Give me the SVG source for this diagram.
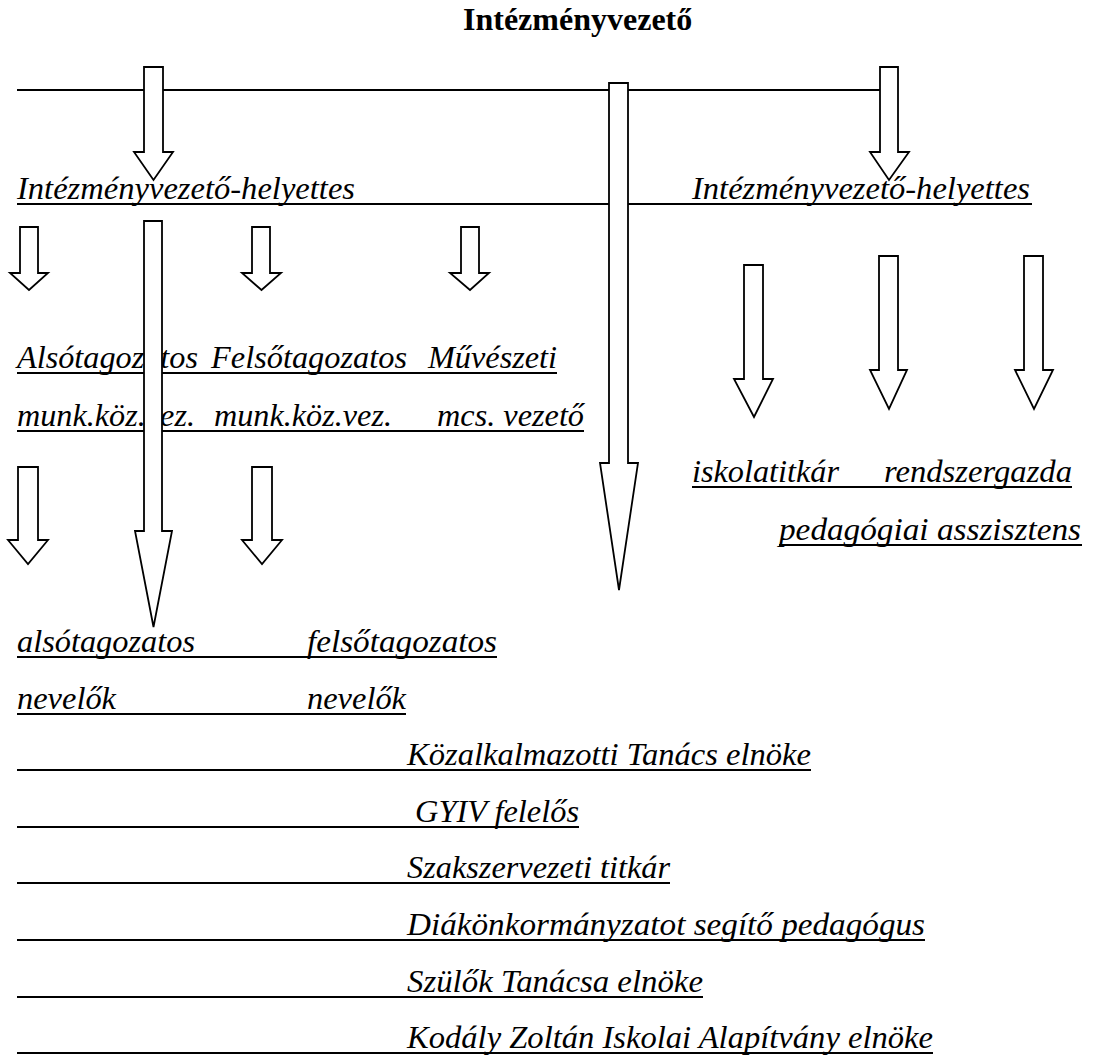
<svg xmlns="http://www.w3.org/2000/svg" width="1094" height="1056" viewBox="0 0 1094 1056">
<defs>
<style>
.t{font-family:"Liberation Serif","DejaVu Serif",serif;font-size:31px;font-style:italic;fill:#000}
.h{font-family:"Liberation Serif","DejaVu Serif",serif;font-size:32px;font-weight:bold;fill:#000}
.u{stroke:#000;stroke-width:2;fill:none}
.ln{stroke:#000;stroke-width:2;fill:none}
.ar{fill:#fff;stroke:#000;stroke-width:1.8;stroke-linejoin:miter}
</style>
</defs>
<rect width="1094" height="1056" fill="#fff"/>
<g id="title"><text class="h" x="463" y="30">Intézményvezető</text></g>
<g id="helyettes-row">
<line class="u" x1="17" y1="204" x2="1032" y2="204"/>
<text class="t" x="17" y="199" textLength="338" lengthAdjust="spacingAndGlyphs">Intézményvezető-helyettes</text>
<text class="t" x="692" y="199" textLength="338" lengthAdjust="spacingAndGlyphs">Intézményvezető-helyettes</text>
</g>
<g id="munkakozosseg-row1">
<line class="u" x1="17" y1="373" x2="557" y2="373"/>
<text class="t" x="17" y="368" textLength="181" lengthAdjust="spacingAndGlyphs">Alsótagozatos</text>
<text class="t" x="211" y="368" textLength="196" lengthAdjust="spacingAndGlyphs">Felsőtagozatos</text>
<text class="t" x="428" y="368" textLength="129" lengthAdjust="spacingAndGlyphs">Művészeti</text>
</g>
<g id="munkakozosseg-row2">
<line class="u" x1="17" y1="431" x2="584" y2="431"/>
<text class="t" x="17" y="426" textLength="178" lengthAdjust="spacingAndGlyphs">munk.köz.vez.</text>
<text class="t" x="214" y="426" textLength="178" lengthAdjust="spacingAndGlyphs">munk.köz.vez.</text>
<text class="t" x="437" y="426" textLength="147" lengthAdjust="spacingAndGlyphs">mcs. vezető</text>
</g>
<g id="staff-row1">
<line class="u" x1="692" y1="487" x2="1072" y2="487"/>
<text class="t" x="692" y="482" textLength="147" lengthAdjust="spacingAndGlyphs">iskolatitkár</text>
<text class="t" x="884" y="482" textLength="188" lengthAdjust="spacingAndGlyphs">rendszergazda</text>
</g>
<g id="staff-row2">
<line class="u" x1="779" y1="545" x2="1082" y2="545"/>
<text class="t" x="779" y="540" textLength="302" lengthAdjust="spacingAndGlyphs">pedagógiai asszisztens</text>
</g>
<g id="nevelok-row1">
<line class="u" x1="17" y1="657" x2="497" y2="657"/>
<text class="t" x="17" y="652" textLength="178" lengthAdjust="spacingAndGlyphs">alsótagozatos</text>
<text class="t" x="307" y="652" textLength="190" lengthAdjust="spacingAndGlyphs">felsőtagozatos</text>
</g>
<g id="nevelok-row2">
<line class="u" x1="17" y1="714" x2="406" y2="714"/>
<text class="t" x="17" y="709" textLength="99" lengthAdjust="spacingAndGlyphs">nevelők</text>
<text class="t" x="307" y="709" textLength="99" lengthAdjust="spacingAndGlyphs">nevelők</text>
</g>
<g id="kt-elnok">
<line class="u" x1="17" y1="770" x2="811" y2="770"/>
<text class="t" x="407" y="765" textLength="404" lengthAdjust="spacingAndGlyphs">Közalkalmazotti Tanács elnöke</text>
</g>
<g id="gyiv">
<line class="u" x1="17" y1="827" x2="579" y2="827"/>
<text class="t" x="415" y="822" textLength="164" lengthAdjust="spacingAndGlyphs">GYIV felelős</text>
</g>
<g id="szakszervezet">
<line class="u" x1="17" y1="883" x2="670" y2="883"/>
<text class="t" x="407" y="878" textLength="263" lengthAdjust="spacingAndGlyphs">Szakszervezeti titkár</text>
</g>
<g id="dok">
<line class="u" x1="17" y1="940" x2="925" y2="940"/>
<text class="t" x="407" y="935" textLength="518" lengthAdjust="spacingAndGlyphs">Diákönkormányzatot segítő pedagógus</text>
</g>
<g id="szulok">
<line class="u" x1="17" y1="997" x2="703" y2="997"/>
<text class="t" x="407" y="992" textLength="296" lengthAdjust="spacingAndGlyphs">Szülők Tanácsa elnöke</text>
</g>
<g id="alapitvany">
<line class="u" x1="17" y1="1053" x2="933" y2="1053"/>
<text class="t" x="407" y="1048" textLength="526" lengthAdjust="spacingAndGlyphs">Kodály Zoltán Iskolai Alapítvány elnöke</text>
</g>
<g id="connectors">
<line class="ln" x1="17" y1="90" x2="881" y2="90"/>
<path class="ar" d="M144 67 H163 V152 H173 L153.5 180 L134 152 H144 Z"/>
<path class="ar" d="M880 67 H898 V152 H909 L889 180 L870 152 H880 Z"/>
<path class="ar" d="M609 83 H628 V463 H638 L619 590 L600 463 H609 Z"/>
<path class="ar" d="M144 221 H162 V531 H172 L153.5 627 L135 531 H144 Z"/>
<path class="ar" d="M20 227 H38 V273 H48 L29 290 L10 273 H20 Z"/>
<path class="ar" d="M252 227 H270 V273 H281 L261.5 290 L242 273 H252 Z"/>
<path class="ar" d="M461 227 H479 V273 H489 L470 290 L450 273 H461 Z"/>
<path class="ar" d="M18 467 H38 V540 H48 L28 564 L8 540 H18 Z"/>
<path class="ar" d="M252 467 H272 V540 H282 L262 564 L242 540 H252 Z"/>
<path class="ar" d="M744 265 H763 V379 H773 L754 417 L734 379 H744 Z"/>
<path class="ar" d="M879 256 H898 V370 H907 L889 409 L870 370 H879 Z"/>
<path class="ar" d="M1024 256 H1043 V370 H1053 L1034 409 L1015 370 H1024 Z"/>
</g>
</svg>
